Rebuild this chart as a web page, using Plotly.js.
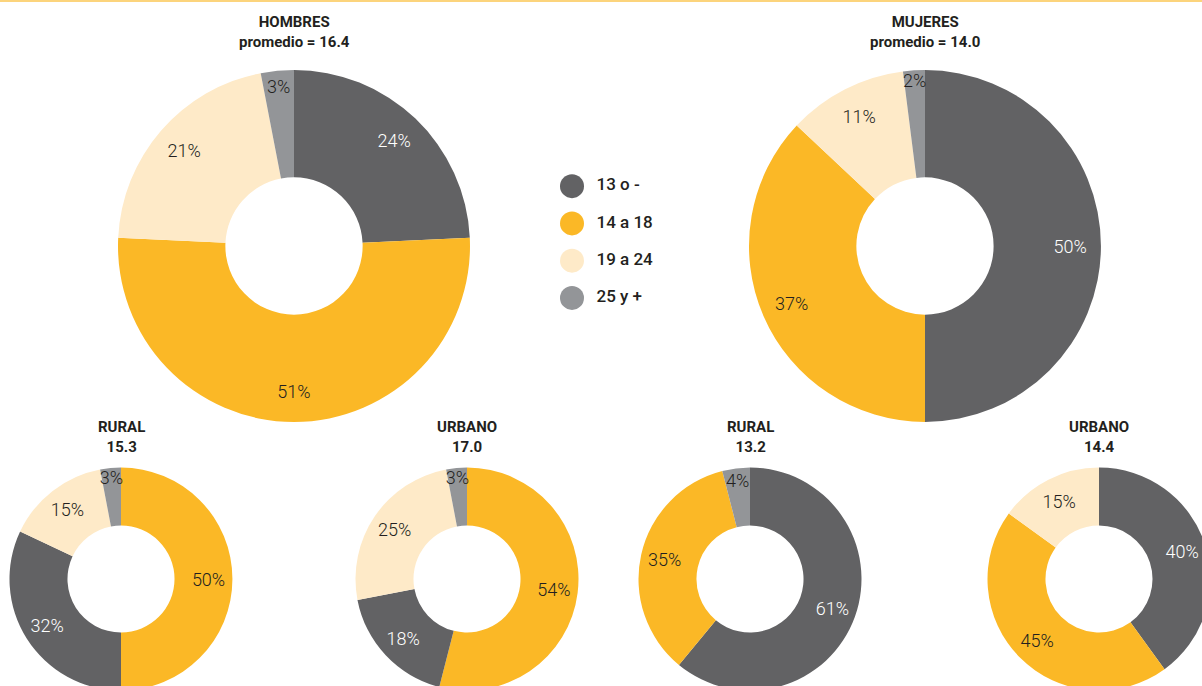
<!DOCTYPE html>
<html>
<head>
<meta charset="utf-8">
<script src="https://cdn.plot.ly/plotly-3.0.1.min.js"></script>
<style>
html,body{margin:0;padding:0;width:1202px;height:686px;overflow:hidden;background:#fff;}
#chart{width:1220px;height:700px;}
</style>
</head>
<body>
<div id="chart"></div>
<script>
// ---- data ----
const categories = ['13 o -', '14 a 18', '19 a 24', '25 y +'];
const hombres = [24, 51, 21, 3];
const mujeres = [50, 37, 11, 2];
const hombresRural = [32, 50, 15, 3];
const hombresUrbano = [18, 54, 25, 3];
const mujeresRural = [61, 35, 0, 4];
const mujeresUrbano = [40, 45, 15, 0];
const titles = ['HOMBRES', 'MUJERES', 'RURAL', 'URBANO', 'RURAL', 'URBANO'];
const promedios = ['16.4', '14.0', '15.3', '17.0', '13.2', '14.4'];

// ---- style ----
const colors = ['#626264', '#FBB826', '#FEEAC8', '#939598'];
const labelColors = ['#ffffff', '#231f20', '#231f20', '#231f20'];
const W = 1220, H = 700;

function dom(cx, cy, r) {
  return {x: [(cx - r) / W, (cx + r) / W], y: [(H - cy - r) / H, (H - cy + r) / H]};
}

const charts = [
  {vals: hombres,       order: [0, 1, 2, 3], cx: 294,  cy: 246, r: 176,   hole: 0.39, labelHole: 0.65, title: 0, titleY: 32,  prefix: 'promedio = '},
  {vals: mujeres,       order: [0, 1, 2, 3], cx: 925,  cy: 246, r: 176,   hole: 0.39, labelHole: 0.65, title: 1, titleY: 32,  prefix: 'promedio = '},
  {vals: hombresRural,  order: [1, 0, 2, 3], cx: 121,  cy: 579, r: 111.5, hole: 0.48, labelHole: 0.57, title: 2, titleY: 437, prefix: ''},
  {vals: hombresUrbano, order: [1, 0, 2, 3], cx: 467,  cy: 579, r: 111.5, hole: 0.48, labelHole: 0.57, title: 3, titleY: 437, prefix: ''},
  {vals: mujeresRural,  order: [0, 1, 2, 3], cx: 750,  cy: 579, r: 111.5, hole: 0.48, labelHole: 0.57, title: 4, titleY: 437, prefix: ''},
  {vals: mujeresUrbano, order: [0, 1, 2, 3], cx: 1099, cy: 579, r: 111.5, hole: 0.48, labelHole: 0.57, title: 5, titleY: 437, prefix: ''}
];

const traces = [];
const annotations = [];
charts.forEach(c => {
  const lab = c.order.map(i => categories[i]);
  const v = c.order.map(i => c.vals[i]);
  const common = {
    type: 'pie',
    labels: lab,
    values: v,
    sort: false,
    direction: 'clockwise',
    rotation: 0,
    domain: dom(c.cx, c.cy, c.r),
    hoverinfo: 'none',
    showlegend: false
  };
  // coloured ring
  traces.push(Object.assign({}, common, {
    hole: c.hole,
    marker: {colors: c.order.map(i => colors[i]), line: {width: 0}},
    textinfo: 'none'
  }));
  // percentage labels (transparent ring placed toward the outer edge)
  traces.push(Object.assign({}, common, {
    hole: c.labelHole,
    marker: {colors: v.map(() => 'rgba(0,0,0,0)'), line: {width: 0}},
    text: v.map(x => x > 0 ? x + '%' : ''),
    textinfo: 'text',
    textposition: 'inside',
    insidetextorientation: 'horizontal',
    insidetextfont: {family: 'Roboto', size: 18, weight: 300, color: c.order.map(i => labelColors[i])}
  }));
  annotations.push({
    xref: 'paper', yref: 'paper',
    x: c.cx / W, y: (H - c.titleY) / H,
    xanchor: 'center', yanchor: 'middle',
    text: titles[c.title] + '<br>' + c.prefix + promedios[c.title],
    showarrow: false,
    font: {family: 'Roboto', size: 15, weight: 700, color: '#231f20'}
  });
});

// legend drawn as categorical scatter (markers + labels)
traces.push({
  type: 'scatter',
  mode: 'markers',
  x: categories.map(() => 0),
  y: categories,
  marker: {size: 24, color: colors},
  cliponaxis: false,
  hoverinfo: 'none',
  showlegend: false,
  xaxis: 'x', yaxis: 'y'
});
traces.push({
  type: 'scatter',
  mode: 'text',
  x: categories.map(() => 0.19),
  y: categories,
  text: categories,
  textposition: 'middle right',
  textfont: {family: 'Roboto', size: 17, weight: 500, color: '#231f20'},
  cliponaxis: false,
  hoverinfo: 'none',
  showlegend: false,
  xaxis: 'x', yaxis: 'y'
});

const layout = {
  width: W, height: H,
  autosize: false,
  margin: {l: 0, r: 0, t: 0, b: 0, pad: 0},
  paper_bgcolor: '#ffffff',
  plot_bgcolor: 'rgba(0,0,0,0)',
  showlegend: false,
  uniformtext: {minsize: 18, mode: 'show'},
  xaxis: {domain: [572 / W, 701 / W], range: [0, 1], visible: false, fixedrange: true},
  yaxis: {domain: [(H - 316.5) / H, (H - 167.5) / H], type: 'category', range: [3.5, -0.5], visible: false, fixedrange: true},
  annotations: annotations,
  shapes: [{type: 'rect', xref: 'paper', yref: 'paper', x0: 0, x1: 1, y0: (H - 2) / H, y1: 1, fillcolor: '#FCD47C', line: {width: 0}}]
};

Plotly.newPlot('chart', traces, layout, {staticPlot: true, displayModeBar: false});
</script>
</body>
</html>
